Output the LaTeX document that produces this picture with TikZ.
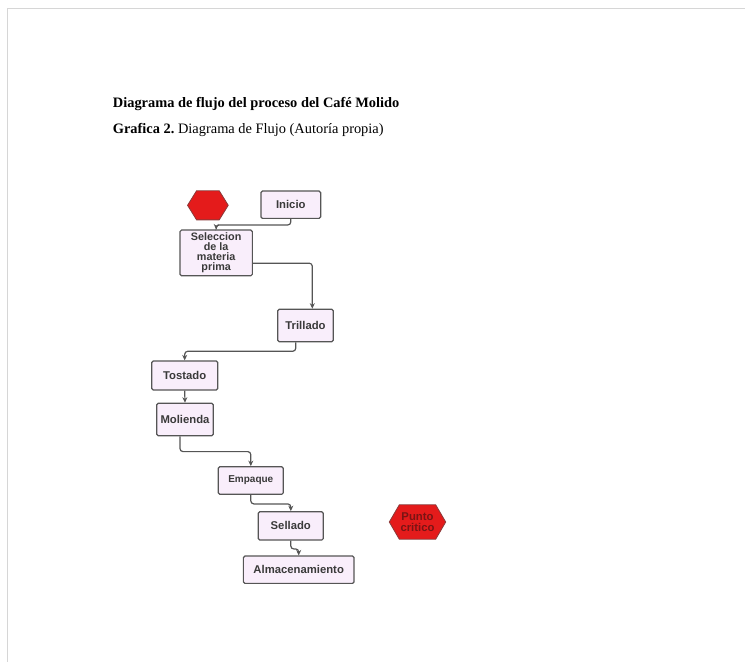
\documentclass[tikz,border=0pt]{standalone}
\usepackage{fontspec}
\setmainfont{Liberation Serif}
\newfontfamily\boxfont{Liberation Sans}
\usetikzlibrary{arrows.meta,calc}
\frenchspacing
\definecolor{pageline}{HTML}{D6D6D6}
\definecolor{boxfill}{HTML}{F9EEFB}
\definecolor{boxline}{HTML}{555555}
\definecolor{boxtext}{HTML}{3A3A3A}
\definecolor{critred}{HTML}{E41B1B}
\definecolor{critline}{HTML}{8A3A3A}
\definecolor{crittext}{HTML}{7A1414}
\tikzset{
  stepbox/.style={draw=boxline, fill=boxfill, line width=1.2pt, rounded corners=1.5pt,
    inner sep=0pt, align=center, text=boxtext,
    font=\boxfont\bfseries\fontsize{11.3}{10}\selectfont},
  hexholder/.style={inner sep=0pt, align=center, text=crittext,
    font=\boxfont\bfseries\fontsize{11.3}{11}\selectfont},
  hexfill/.style={draw=critline, fill=critred, line width=0.8pt},
  flow/.style={draw=boxline, line width=1.2pt, rounded corners=3pt,
    -{Stealth[length=5.5pt,width=5pt]}},
}
\begin{document}
\begin{tikzpicture}[x=1pt,y=-1pt]
\useasboundingbox (0,0) rectangle (745,662);
% page frame
\draw[pageline, line width=1.6pt] (745,8.5) -- (7.5,8.5) -- (7.5,662);

% headings
\node[anchor=base west, inner sep=0pt, font=\fontsize{14.4}{16}\selectfont] (title) at (112.7,107.5)
  {\bfseries Diagrama de flujo del proceso del Café Molido};
\node[anchor=base west, inner sep=0pt, font=\fontsize{14.4}{16}\selectfont] (caption) at (112.7,133.3)
  {\textbf{Grafica 2.} Diagrama de Flujo (Autoría propia)};

% process steps
\node[stepbox, minimum width=59.7pt, minimum height=27.3pt] (inicio) at (290.8,204.7) {Inicio};
\node[stepbox, minimum width=72.3pt, minimum height=45.7pt, font=\boxfont\bfseries\fontsize{10.8}{9.8}\selectfont] (sel) at (216.2,252.9) {Seleccion\\de la\\materia\\prima};
\node[stepbox, minimum width=55.6pt, minimum height=32.4pt] (tril) at (305.5,325.5) {Trillado};
\node[stepbox, minimum width=66pt, minimum height=29pt] (tost) at (184.7,375.5) {Tostado};
\node[stepbox, minimum width=56.6pt, minimum height=32.4pt] (mol) at (185,419.5) {Molienda};
\node[stepbox, minimum width=65pt, minimum height=27.6pt, font=\boxfont\bfseries\fontsize{10}{10}\selectfont] (emp) at (250.8,480.5) {Empaque};
\node[stepbox, minimum width=65pt, minimum height=28.3pt] (sell) at (290.8,525.9) {Sellado};
\node[stepbox, minimum width=110.7pt, minimum height=27.3pt] (alm) at (298.7,569.7) {Almacenamiento};

% critical-point hexagons
\node[hexholder, minimum width=40.3pt, minimum height=28.7pt] (redhex) at (207.9,205.3) {};
\path[hexfill] (redhex.west) -- ([xshift=9pt]redhex.north west) -- ([xshift=-9pt]redhex.north east)
  -- (redhex.east) -- ([xshift=-9pt]redhex.south east) -- ([xshift=9pt]redhex.south west) -- cycle;

\node[hexholder, minimum width=56pt, minimum height=34pt] (crit) at (417.5,522) {};
\path[hexfill] (crit.west) -- ([xshift=10pt]crit.north west) -- ([xshift=-10pt]crit.north east)
  -- (crit.east) -- ([xshift=-10pt]crit.south east) -- ([xshift=10pt]crit.south west) -- cycle;
\node[hexholder] (crittxt) at (crit.center) {Punto\\critico};

% connectors
\draw[flow] (inicio.south) -- ++(0,6) -| (sel.north);
\draw[flow] ($(sel.east)+(0,10.3)$) -| ([xshift=6.8pt]tril.north);
\draw[flow] ([xshift=-9.8pt]tril.south) -- ++(0,9) -| (tost.north);
\draw[flow] (tost.south) -- (mol.north);
\draw[flow] ([xshift=-5pt]mol.south) -- ++(0,15.3) -| (emp.north);
\draw[flow] (emp.south) -- ++(0,9) -| (sell.north);
\draw[flow] (sell.south) -- ++(0,8.3) -| (alm.north);
\end{tikzpicture}
\end{document}
